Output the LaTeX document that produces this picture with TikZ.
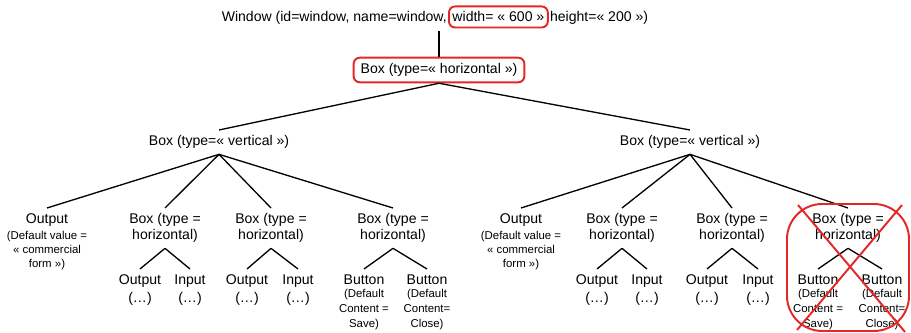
\documentclass[tikz,border=0pt]{standalone}
\usepackage{fontspec}
\setmainfont{Liberation Sans}
\usepackage{tikz}
\usetikzlibrary{positioning}
\usepackage{xcolor}
\definecolor{markred}{RGB}{228,38,38}
\newcommand{\smalltxt}[1]{{\fontsize{6.5}{7.7}\selectfont #1}}

\begin{document}
\begin{tikzpicture}[x=0.02cm, y=-0.02cm,
  tn/.style={font=\fontsize{8}{9.1}\selectfont, align=center, inner xsep=1pt, inner ysep=3pt, anchor=north},
  edge/.style={black, line width=0.75pt},
  redbox/.style={draw=markred, line width=1.1pt, rounded corners=3.5pt},
  xmark/.style={markred, line width=1.1pt}]

\useasboundingbox (0,0) rectangle (911,333);

% window
{
\node[tn, anchor=base east, inner xsep=0.5pt] (wa) at (448,22) {Window (id=window, name=window,};
\node[tn, redbox, inner xsep=2pt, minimum height=12pt] (wb) [base right=0pt of wa] {width= « 600 »};
\node[tn, inner xsep=0.5pt] (wc) [base right=0pt of wb] {height=« 200 »)};

\node[tn, redbox, anchor=center, inner xsep=4pt, minimum height=14pt] (hb) at (439,70) {Box (type=« horizontal »)};

\draw[edge] (hb.north) -- (hb.north |- wa.south);
}

% vertical boxes
{
\node[tn] (vl) at (219,130) {Box (type=« vertical »)};
\node[tn] (vr) at (690,130) {Box (type=« vertical »)};

\draw[edge] (hb.south) -- (vl.north);
\draw[edge] (hb.south) -- (vr.north);
}

%left part
{
\node[tn] (lo) at (47,208) {Output\\[-0.2pt]\smalltxt{(Default value =}\\[-1.1pt]\smalltxt{« commercial}\\[-1.1pt]\smalltxt{form »)}};
\node[tn] (lb1) at (165,208) {Box (type =\\horizontal)};
\node[tn] (lb2) at (271,208) {Box (type =\\horizontal)};
\node[tn] (lb3) at (393,208) {Box (type =\\horizontal)};

\draw[edge] (vl.south) -- (lo.north);
\draw[edge] (vl.south) -- (lb1.north);
\draw[edge] (vl.south) -- (lb2.north);
\draw[edge] (vl.south) -- (lb3.north);

\node[tn] (lo1) at (140,269) {Output\\[1pt](…)};
\node[tn] (li1) at (190,269) {Input\\[1pt](…)};
\node[tn] (lo2) at (247,269) {Output\\[1pt](…)};
\node[tn] (li2) at (298,269) {Input\\[1pt](…)};
\node[tn] (ls) at (364,269) {Button\\[-1.3pt]\smalltxt{(Default}\\[-0.8pt]\smalltxt{Content =}\\[-0.8pt]\smalltxt{Save)}};
\node[tn] (lc) at (427,269) {Button\\[-1.3pt]\smalltxt{(Default}\\[-0.8pt]\smalltxt{Content=}\\[-0.8pt]\smalltxt{Close)}};

\draw[edge] (lb1.south) -- (lo1.north);
\draw[edge] (lb1.south) -- (li1.north);
\draw[edge] (lb2.south) -- (lo2.north);
\draw[edge] (lb2.south) -- (li2.north);
\draw[edge] (lb3.south) -- (ls.north);
\draw[edge] (lb3.south) -- (lc.north);
}

%right part
{
\node[tn] (ro) at (521,208) {Output\\[-0.2pt]\smalltxt{(Default value =}\\[-1.1pt]\smalltxt{« commercial}\\[-1.1pt]\smalltxt{form »)}};
\node[tn] (rb1) at (622,208) {Box (type =\\horizontal)};
\node[tn] (rb2) at (732,208) {Box (type =\\horizontal)};
\node[tn] (rb3) at (848,208) {Box (type =\\horizontal)};

\draw[edge] (vr.south) -- (ro.north);
\draw[edge] (vr.south) -- (rb1.north);
\draw[edge] (vr.south) -- (rb2.north);
\draw[edge] (vr.south) -- (rb3.north);

\node[tn] (ro1) at (597,269) {Output\\[1pt](…)};
\node[tn] (ri1) at (647,269) {Input\\[1pt](…)};
\node[tn] (ro2) at (707,269) {Output\\[1pt](…)};
\node[tn] (ri2) at (758,269) {Input\\[1pt](…)};
\node[tn] (rs) at (818,269) {Button\\[-1.3pt]\smalltxt{(Default}\\[-0.8pt]\smalltxt{Content =}\\[-0.8pt]\smalltxt{Save)}};
\node[tn] (rc) at (882,269) {Button\\[-1.3pt]\smalltxt{(Default}\\[-0.8pt]\smalltxt{Content=}\\[-0.8pt]\smalltxt{Close)}};

\draw[edge] (rb1.south) -- (ro1.north);
\draw[edge] (rb1.south) -- (ri1.north);
\draw[edge] (rb2.south) -- (ro2.north);
\draw[edge] (rb2.south) -- (ri2.north);
\draw[edge] (rb3.south) -- (rs.north);
\draw[edge] (rb3.south) -- (rc.north);
}

% red cross
\draw[xmark, rounded corners=20pt] (787,204) rectangle (909,331);
\draw[xmark] (798,205) -- (905,332);
\draw[xmark] (902,205) -- (797,330);

\end{tikzpicture}
\end{document}
